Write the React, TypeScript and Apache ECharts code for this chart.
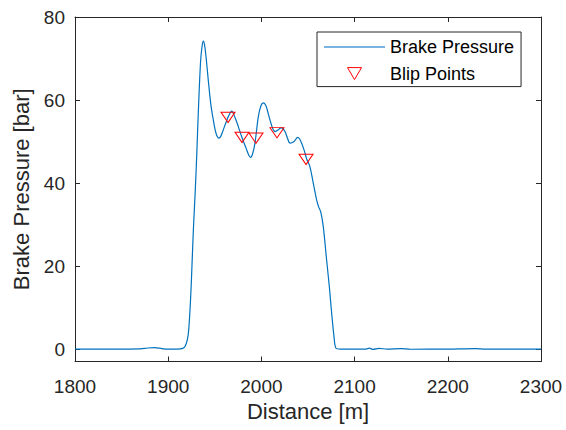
import React, { useEffect, useRef } from "react";
import * as echarts from "echarts";

const distance = [
  1800, 1840, 1870, 1878, 1885, 1891, 1897, 1910, 1915, 1918, 1920.5, 1922, 1924, 1925.5, 1927, 1929, 1930.5,
  1932.3, 1934.8, 1936.5, 1937.7, 1939, 1940.6, 1943, 1945.6, 1948.4, 1951.3, 1954.5, 1956.5, 1959.1, 1962,
  1964.5, 1968.1, 1971.7, 1975.2, 1978.8, 1983.5, 1986.5, 1988.5, 1990.5, 1993.1, 1996.7, 1999.5, 2002,
  2004.5, 2006.3, 2009.2, 2012, 2014.6, 2018.1, 2020, 2021.8, 2025.3, 2028, 2030.7, 2035, 2038.9, 2041,
  2043.2, 2046, 2048.6, 2052.1, 2055.7, 2059.3, 2061.5, 2063.6, 2066.4, 2070, 2072.9, 2075.4, 2077.9, 2080,
  2085, 2112, 2116, 2120, 2126, 2135, 2150, 2160, 2200, 2230, 2240, 2300,
];
const pressure = [
  0, 0, 0.05, 0.25, 0.35, 0.2, 0, 0, 0.1, 0.6, 2.2, 4.6, 12, 20, 28.7, 38, 46,
  57, 69.5, 73.2, 74.2, 73.3, 70.4, 64.8, 59.2, 55.2, 52, 50.8, 51.3, 52.8, 54.6,
  56, 57.3, 55.8, 53.6, 51.2, 48.4, 46.7, 46.2, 47, 49.6, 56, 58.6, 59.3,
  58.8, 57.6, 55.2, 53.2, 52.4, 52.8, 53.2, 53.3, 52.4, 50.8, 49.6, 50, 51, 50.6,
  49.6, 47.8, 45.8, 43.9, 39.9, 35.9, 34.2, 33.1, 29.5, 21.4, 15, 8.6, 3, 0.2,
  0, 0, 0.2, -0.1, 0.15, 0, 0.1, -0.05, 0, 0.1, 0, 0,
];
const blipDistance = [1964.2, 1979.2, 1994.2, 2016.7, 2047.9];
const blipPressure = [55.8, 51.0, 50.8, 52.1, 45.7];
const xTicks = [1800, 1900, 2000, 2100, 2200, 2300];
const yTicks = [0, 20, 40, 60, 80];

const FONT = "Liberation Sans, Arial, Helvetica, sans-serif";
const AXIS = "#262626";
const TRI = "path://M0,0 L14,0 L7,12 Z";
const LINE_ICON = "path://M0,0 L61,0 L61,1.4 L0,1.4 Z";

export default function App() {
  const ref = useRef<HTMLDivElement>(null);
  useEffect(() => {
    if (!ref.current) return;
    const chart = echarts.init(ref.current, undefined, { renderer: "svg" });
    const axisLine = { show: true, onZero: false, lineStyle: { color: AXIS, width: 1 } };
    const yFmt = (v: number) =>
      yTicks.indexOf(Math.round(v)) >= 0 && Math.abs(v - Math.round(v)) < 1e-6 ? String(Math.round(v)) : "";
    const xFmt = (v: number) => String(v);
    chart.setOption({
      animation: false,
      backgroundColor: "#ffffff",
      textStyle: { fontFamily: FONT },
      grid: { left: 75, right: 25, top: 17, bottom: 68.5, containLabel: false },
      legend: {
        orient: "vertical",
        left: 317,
        top: 32,
        padding: [5, 7, 3, 7],
        itemGap: 6.6,
        itemWidth: 61,
        itemHeight: 12,
        borderColor: AXIS,
        borderWidth: 1,
        backgroundColor: "#ffffff",
        textStyle: { fontFamily: FONT, fontSize: 18, color: "#000000", lineHeight: 20 },
        data: [
          {
            name: "Brake Pressure",
            icon: LINE_ICON,
            itemStyle: { color: "#4f9bd6", borderWidth: 0 },
          },
          {
            name: "Blip Points",
            icon: TRI,
            itemStyle: { color: "rgba(0,0,0,0)", borderColor: "#FF0000", borderWidth: 1 },
          },
        ],
      },
      xAxis: [
        {
          type: "value",
          min: 1800,
          max: 2300,
          interval: 100,
          name: "Distance [m]",
          nameLocation: "middle",
          nameGap: 37.5,
          nameTextStyle: { fontFamily: FONT, fontSize: 22, color: AXIS },
          axisLine,
          axisTick: { show: true, inside: true, length: 5, lineStyle: { color: AXIS } },
          axisLabel: { fontFamily: FONT, fontSize: 19, color: AXIS, margin: 15, formatter: xFmt, customValues: xTicks },
          splitLine: { show: false },
        },
        {
          type: "value",
          position: "top",
          min: 1800,
          max: 2300,
          interval: 100,
          axisLine,
          axisTick: { show: true, inside: true, length: 5, lineStyle: { color: AXIS } },
          axisLabel: { show: false },
          splitLine: { show: false },
        },
      ],
      yAxis: [
        {
          type: "value",
          min: -3,
          max: 80,
          name: "Brake Pressure [bar]",
          nameLocation: "middle",
          nameGap: 39.5,
          nameRotate: 90,
          nameTextStyle: { fontFamily: FONT, fontSize: 22, color: AXIS },
          axisLine,
          axisTick: { show: true, inside: true, length: 5, lineStyle: { color: AXIS }, customValues: yTicks },
          axisLabel: { fontFamily: FONT, fontSize: 19, color: AXIS, margin: 10, formatter: yFmt, customValues: yTicks },
          splitLine: { show: false },
        },
        {
          type: "value",
          position: "right",
          min: -3,
          max: 80,
          axisLine,
          axisTick: { show: true, inside: true, length: 5, lineStyle: { color: AXIS }, customValues: yTicks },
          axisLabel: { show: false },
          splitLine: { show: false },
        },
      ],
      series: [
        {
          name: "Brake Pressure",
          type: "line",
          symbol: "none",
          smooth: 0.3,
          data: distance.map((d, i) => [d, pressure[i]]),
          lineStyle: { color: "#0072BD", width: 1.2 },
          itemStyle: { color: "#0072BD" },
          z: 2,
        },
        {
          name: "Blip Points",
          type: "scatter",
          symbol: TRI,
          symbolSize: [14, 12],
          symbolKeepAspect: true,
          data: blipDistance.map((d, i) => [d, blipPressure[i]]),
          itemStyle: { color: "rgba(0,0,0,0)", borderColor: "#FF0000", borderWidth: 1, opacity: 1 },
          z: 3,
        },
      ],
    });
    return () => chart.dispose();
  }, []);
  return <div ref={ref} style={{ position: "absolute", left: 0, top: 0, width: 566, height: 430 }} />;
}
